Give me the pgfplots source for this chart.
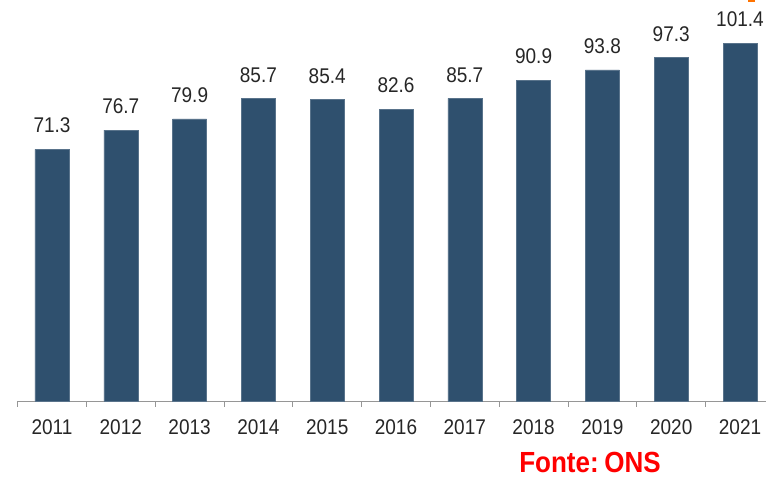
\documentclass[border=0pt]{standalone}
\usepackage{pgfplots}
\pgfplotsset{compat=1.18}
\usepackage{fontspec}
\setmainfont{Liberation Sans}
\definecolor{barblue}{RGB}{47,80,110}
\definecolor{axgray}{RGB}{150,150,150}
\newcommand\vs[1]{\scalebox{1}[1.12]{#1}}
\begin{document}
\begin{tikzpicture}[x=1pt,y=1pt]
\useasboundingbox (0,0) rectangle (766,477);
\begin{axis}[
  at={(52pt,76pt)}, anchor=origin,
  x=68.8pt, y=3.53pt,
  xmin=-0.5, xmax=10.5, ymin=0, ymax=113,
  axis x line*=bottom, axis y line=none,
  axis line style={axgray, line width=1pt, -},
  xtick={0,...,10},
  xticklabels={\vs{2011},\vs{2012},\vs{2013},\vs{2014},\vs{2015},\vs{2016},\vs{2017},\vs{2018},\vs{2019},\vs{2020},\vs{2021}},
  major x tick style={draw=none},
  minor xtick={-0.5,0.5,...,10.5},
  minor x tick style={axgray, line width=1pt},
  minor tick length=6pt,
  tick align=outside,
  xticklabel style={font=\fontsize{19}{19}\selectfont, text=black!85, inner sep=0pt, anchor=north, yshift=-14.5pt},
  ybar, bar width=34pt,
  clip=false,
  nodes near coords={\vs{\pgfmathprintnumber{\pgfplotspointmeta}}},
  nodes near coords style={font=\fontsize{19}{19}\selectfont, text=black!85, inner sep=0pt, anchor=south, yshift=16pt},
  /pgf/number format/fixed, /pgf/number format/fixed zerofill, /pgf/number format/precision=1,
  /pgf/number format/assume math mode=true,
]
\addplot[fill=barblue, draw=barblue!80!white, line width=0.5pt, bar shift=0pt] coordinates {
(0,71.3) (1,76.7) (2,79.9) (3,85.7) (4,85.4) (5,82.6) (6,85.7) (7,90.9) (8,93.8) (9,97.3) (10,101.4)};
\end{axis}
\node[anchor=base, text=red, font=\fontsize{26}{26}\selectfont\bfseries, inner sep=0pt] at (590,4.5) {\vs{Fonte:\hspace{0.22em}ONS}};
\fill[orange!90!red] (748,474.5) rectangle (755,477);
\end{tikzpicture}
\end{document}
